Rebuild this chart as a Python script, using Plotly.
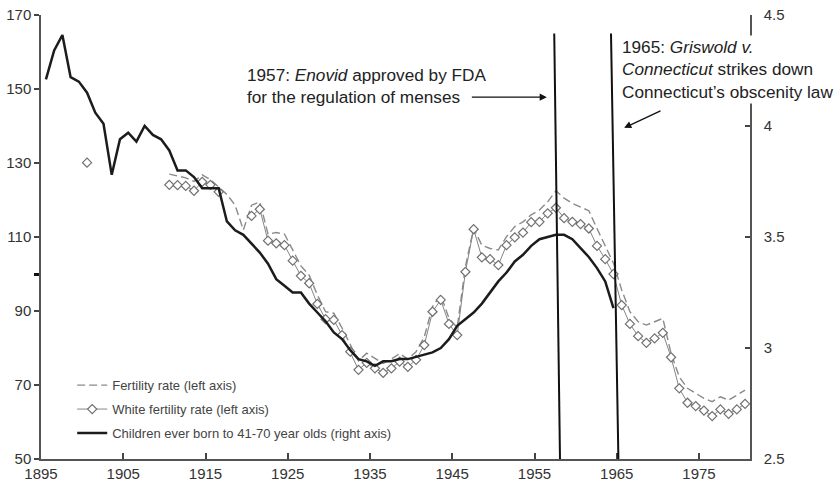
import plotly.graph_objects as go

# ---------------- data ----------------
FERT_YEARS = list(range(1910, 1981))
FERTILITY = [127.0, 126.5, 126.0, 125.0, 126.8, 125.5, 123.5, 121.5, 118.6, 111.9,
             118.6, 119.5, 110.8, 111.2, 110.8, 106.5, 102.2, 99.7, 94.3, 89.8,
             89.4, 85.4, 80.8, 76.5, 78.6, 77.2, 75.8, 77.0, 78.5, 77.0,
             79.0, 83.0, 91.2, 94.3, 88.0, 85.5, 102.0, 112.3, 107.8, 106.9,
             106.5, 110.1, 112.8, 114.1, 116.0, 117.3, 119.5, 122.5, 120.5, 119.1,
             118.2, 117.1, 112.3, 107.8, 102.9, 95.7, 89.8, 87.1, 86.2, 87.1,
             88.0, 78.6, 72.2, 69.1, 67.7, 66.4, 65.5, 66.8, 65.9, 67.3,
             68.6]

WHITE_YEARS = list(range(1900, 1981))
WHITE_FERTILITY = [130.1, None, None, None, None, None, None, None, None, None,
                   124.1, 124.0, 123.8, 122.5, 124.9, 124.1, 122.2, None, None, None,
                   115.7, 117.5, 109.0, 108.3, 107.8, 103.6, 99.5, 97.5, 91.9, 87.8,
                   87.6, 83.5, 79.0, 74.1, 76.0, 74.5, 73.3, 74.5, 76.3, 74.9,
                   76.8, 80.8, 89.8, 93.0, 86.5, 83.5, 100.6, 112.1, 104.5, 104.0,
                   102.4, 107.8, 109.9, 111.2, 114.0, 114.1, 116.4, 117.9, 115.1, 114.1,
                   113.5, 112.3, 107.6, 104.0, 100.0, 91.6, 86.5, 83.2, 81.4, 82.6,
                   84.1, 77.5, 69.1, 65.2, 64.3, 63.1, 61.6, 63.4, 62.2, 63.4,
                   64.9]

CEB_YEARS = list(range(1895, 1965))
CHILDREN_EVER_BORN = [4.21, 4.34, 4.41, 4.22, 4.20, 4.15, 4.06, 4.01, 3.78, 3.94,
                      3.97, 3.93, 4.00, 3.96, 3.94, 3.89, 3.80, 3.80, 3.77, 3.72,
                      3.72, 3.72, 3.57, 3.53, 3.51, 3.47, 3.43, 3.38, 3.31, 3.28,
                      3.25, 3.25, 3.20, 3.16, 3.12, 3.07, 3.04, 2.99, 2.95, 2.94,
                      2.92, 2.94, 2.94, 2.95, 2.95, 2.96, 2.97, 2.98, 3.00, 3.04,
                      3.10, 3.13, 3.16, 3.20, 3.25, 3.30, 3.34, 3.39, 3.42, 3.46,
                      3.49, 3.50, 3.51, 3.51, 3.49, 3.45, 3.41, 3.36, 3.30, 3.18]

X_TICKS = [1895, 1905, 1915, 1925, 1935, 1945, 1955, 1965, 1975]
X_LAST_LABEL = "1985"
LEFT_TICKS = [50, 70, 90, 110, 130, 150, 170]
RIGHT_TICKS = [2.5, 3, 3.5, 4, 4.5]
RIGHT_TICK_TEXT = ["2.5", "3", "3.5", "4", "4.5"]

EVENT_YEARS = [1957, 1965]
EVENT_LEAN_TOP = [0.4, -0.7]      # scan skew of the drawn event lines
EVENT_LEAN_BOTTOM = [1.1, 0.2]

NAMES = ["Fertility rate (left axis)",
         "White fertility rate (left axis)",
         "Children ever born to 41-70 year olds (right axis)"]

# ---------------- figure ----------------
MID = 0.6  # values plotted at mid-year
FONT = "Liberation Sans, Arial, Helvetica, sans-serif"
ANN_SIZE = 17.2

fig = go.Figure()
fig.add_trace(go.Scatter(
    x=[y + MID for y in FERT_YEARS], y=FERTILITY, name=NAMES[0], mode="lines",
    legendgroup="a",
    line=dict(color="#8a8a8a", width=1.4, dash="8px,4px")))
fig.add_trace(go.Scatter(
    x=[y + MID for y in WHITE_YEARS], y=WHITE_FERTILITY, name=NAMES[1],
    mode="lines+markers", connectgaps=False, legendgroup="b",
    line=dict(color="#858585", width=1),
    marker=dict(symbol="diamond", size=7, color="white",
                line=dict(color="#707070", width=1.2))))
fig.add_trace(go.Scatter(
    x=[y + MID for y in CEB_YEARS], y=CHILDREN_EVER_BORN, name=NAMES[2],
    mode="lines", yaxis="y2", legendgroup="c",
    line=dict(color="#1c1c1c", width=2.5)))

for yr, lt, lb in zip(EVENT_YEARS, EVENT_LEAN_TOP, EVENT_LEAN_BOTTOM):
    fig.add_shape(type="line", xref="x", yref="y",
                  x0=yr + lt, y0=165, x1=yr + lb, y1=50,
                  line=dict(color="#111", width=2))

fig.add_annotation(x=1919.85, y=150.8, xref="x", yref="y", xanchor="left",
                   yanchor="middle", align="left", showarrow=False,
                   text="1957: <i>Enovid</i> approved by FDA<br>for the regulation of menses",
                   font=dict(family=FONT, size=ANN_SIZE, color="#222"))
fig.add_annotation(x=1956.5, y=147.8, ax=1947.2, ay=147.8, xref="x", yref="y",
                   axref="x", ayref="y", text="", showarrow=True,
                   arrowhead=2, arrowsize=1.1, arrowwidth=1.3, arrowcolor="#111")

fig.add_annotation(x=1965.4, y=155.3, xref="x", yref="y", xanchor="left",
                   yanchor="middle", align="left", showarrow=False,
                   bgcolor="white", borderpad=1,
                   text="1965: <i>Griswold v.</i><br><i>Connecticut</i> strikes down<br>Connecticut\u2019s obscenity law",
                   font=dict(family=FONT, size=ANN_SIZE, color="#222"))
fig.add_annotation(x=1965.9, y=139.5, ax=1970.5, ay=144.3, xref="x", yref="y",
                   axref="x", ayref="y", text="", showarrow=True,
                   arrowhead=2, arrowsize=1.1, arrowwidth=1.3, arrowcolor="#111")

fig.add_annotation(x=1983.5, y=0, xref="x", yref="paper", xanchor="center",
                   yanchor="top", yshift=-2, showarrow=False, text=X_LAST_LABEL,
                   font=dict(family=FONT, size=15, color="#333"))

axis_common = dict(showline=True, linecolor="#555", linewidth=1.5,
                   showgrid=False, zeroline=False, automargin=False,
                   tickfont=dict(family=FONT, size=15, color="#333"),
                   tickcolor="#444", tickwidth=1.5)

fig.update_layout(
    width=839, height=482,
    margin=dict(l=41, r=89, t=15, b=23, autoexpand=False),
    paper_bgcolor="white", plot_bgcolor="white",
    font=dict(family=FONT, color="#333"),
    showlegend=True,
    legend=dict(x=0.044, y=0.2, xanchor="left", yanchor="top",
                traceorder="grouped", tracegroupgap=4,
                bgcolor="rgba(0,0,0,0)", font=dict(family=FONT, size=13, color="#444")),
    xaxis=dict(range=[1895, 1981.2], tickvals=X_TICKS, ticks="inside", ticklen=6,
               **axis_common),
    yaxis=dict(range=[50, 170], tickvals=LEFT_TICKS, ticks="outside", ticklen=5,
               minor=dict(tickvals=[100], ticks="outside", ticklen=5,
                          tickcolor="#111", tickwidth=2.5),
               **axis_common),
    yaxis2=dict(range=[2.5, 4.5], tickvals=RIGHT_TICKS, ticktext=RIGHT_TICK_TEXT,
                overlaying="y", side="right", ticks="inside", ticklen=5,
                ticklabelstandoff=9, **axis_common),
)

fig.write_html("out.html", config={"displayModeBar": False},
               post_script="document.body.style.margin='0px';"
                           "document.body.style.overflow='hidden';")
